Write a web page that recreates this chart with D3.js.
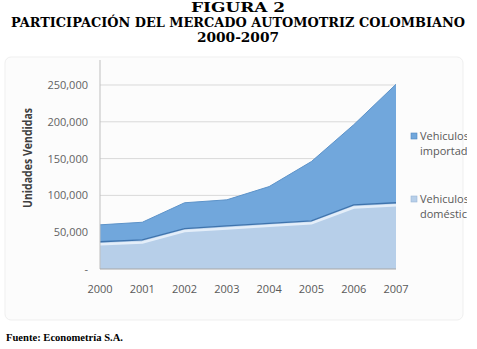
<!DOCTYPE html>
<html>
<head>
<meta charset="utf-8">
<script src="https://cdn.jsdelivr.net/npm/d3@7"></script>
<style>
  body { margin: 0; background: #fff; }
  svg { display: block; }
</style>
</head>
<body>
<svg id="chart"></svg>
<script>
const WIDTH = 477;
const HEIGHT = 349;

// data
const years = [2000, 2001, 2002, 2003, 2004, 2005, 2006, 2007];
const domesticos = [37000, 39500, 55000, 58500, 62000, 65500, 87000, 90000];
const importados = [23000, 24000, 35000, 35500, 50000, 80500, 109000, 161000];
const yTicks = [0, 50000, 100000, 150000, 200000, 250000];
const legendLines = [
    ["Vehiculos", "importados"],
    ["Vehiculos", "domésticos"]
];
const titleLines = ["FIGURA 2", "PARTICIPACIÓN DEL MERCADO AUTOMOTRIZ COLOMBIANO", "2000-2007"];

const rows = years.map((yr, i) => ({ year: yr, dom: domesticos[i], imp: importados[i] }));

const svg = d3.select("#chart")
    .attr("width", WIDTH)
    .attr("height", HEIGHT);

// faint chart background
svg.append("rect")
    .attr("x", 5).attr("y", 57)
    .attr("width", 458).attr("height", 263)
    .attr("rx", 6)
    .style("fill", "#fcfcfc")
    .style("stroke", "#efefef");

const plotTop = 60;
const x = d3.scaleLinear().domain([2000, 2007]).range([100, 396]);
const y = d3.scaleLinear().domain([0, 250000]).range([269, 85]);

// gridlines
svg.append("g")
    .selectAll("line")
    .data(yTicks.filter(d => d > 0))
    .enter()
    .append("line")
    .attr("x1", x(2000)).attr("x2", x(2007))
    .attr("y1", d => y(d)).attr("y2", d => y(d))
    .style("stroke", "#d9d9d9");

const stack = d3.stack().keys(["dom", "imp"]);
const layers = stack(rows);

const area = d3.area()
    .x(d => x(d.data.year))
    .y0(d => y(d[0]))
    .y1(d => y(d[1]));

const fills = { dom: "#b7cfe9", imp: "#71a7dc" };

svg.append("g")
    .selectAll("path")
    .data(layers)
    .enter()
    .append("path")
    .attr("d", area)
    .style("fill", d => fills[d.key]);

const topLine = d3.line()
    .x(d => x(d.data.year))
    .y(d => y(d[1]));

// edges: top of imported, dark shadow + white highlight on domestic
svg.append("path")
    .attr("d", topLine(layers[1]))
    .style("fill", "none")
    .style("stroke", "#5d93c9")
    .style("stroke-width", 1);
svg.append("path")
    .attr("d", topLine(layers[0]))
    .attr("transform", "translate(0,2.5)")
    .style("fill", "none")
    .style("stroke", "#e4eef9")
    .style("stroke-width", 2.5);
svg.append("path")
    .attr("d", topLine(layers[0]))
    .style("fill", "none")
    .style("stroke", "#3f74ad")
    .style("stroke-width", 1.3);

// axes lines
svg.append("line")
    .attr("x1", x(2000)).attr("x2", x(2000))
    .attr("y1", y(0)).attr("y2", plotTop)
    .style("stroke", "#bfbfbf");
svg.append("line")
    .attr("x1", x(2000)).attr("x2", x(2007))
    .attr("y1", y(0)).attr("y2", y(0))
    .style("stroke", "#a6a6a6");

const fmt = d3.format(",");
const labelFont = "'Open Sans', 'DejaVu Sans', sans-serif";

svg.append("g")
    .selectAll("text")
    .data(yTicks)
    .enter()
    .append("text")
    .attr("x", 88)
    .attr("y", d => y(d) + 4)
    .attr("text-anchor", "end")
    .style("font-family", labelFont)
    .style("font-size", "11px")
    .style("fill", "#636363")
    .text(d => d === 0 ? "-" : fmt(d));

svg.append("g")
    .selectAll("text")
    .data(years)
    .enter()
    .append("text")
    .attr("x", d => x(d))
    .attr("y", 293)
    .attr("text-anchor", "middle")
    .style("font-family", labelFont)
    .style("font-size", "11px")
    .style("fill", "#595959")
    .text(d => d);

svg.append("text")
    .attr("transform", "translate(31.5,158) rotate(-90)")
    .attr("text-anchor", "middle")
    .attr("textLength", 100)
    .attr("lengthAdjust", "spacingAndGlyphs")
    .style("font-family", labelFont)
    .style("font-size", "12px")
    .style("font-weight", "bold")
    .style("fill", "#404040")
    .text("Unidades Vendidas");

// legend, clipped at the right like the original
svg.append("clipPath")
    .attr("id", "legclip")
    .append("rect")
    .attr("x", 400).attr("y", 100)
    .attr("width", 67).attr("height", 150);

const legendKeys = ["imp", "dom"];
const legY = [137, 200];
const leg = svg.append("g").attr("clip-path", "url(#legclip)");

legendKeys.forEach((k, i) => {
    leg.append("rect")
        .attr("x", 411).attr("y", legY[i] - 4)
        .attr("width", 6).attr("height", 6)
        .style("fill", fills[k])
        .style("stroke", k === "imp" ? "#4f86bf" : "#9ab6d6")
        .style("stroke-width", 0.6);
    leg.append("text")
        .attr("x", 420)
        .attr("y", legY[i] + 3)
        .style("font-family", labelFont)
        .style("font-size", "11px")
        .style("fill", "#595959")
        .selectAll("tspan")
        .data(legendLines[i])
        .enter()
        .append("tspan")
        .attr("x", 420)
        .attr("dy", (d, j) => j === 0 ? 0 : 15)
        .text(d => d);
});

// title
const titleY = [11.5, 26.5, 42];
const titleW = [94, 454, 82];
svg.append("g")
    .selectAll("text")
    .data(titleLines)
    .enter()
    .append("text")
    .attr("x", 238)
    .attr("y", (d, i) => titleY[i])
    .attr("text-anchor", "middle")
    .attr("textLength", (d, i) => titleW[i])
    .attr("lengthAdjust", "spacingAndGlyphs")
    .style("font-family", "'DejaVu Serif', 'Liberation Serif', serif")
    .style("font-size", "12.5px")
    .style("font-weight", "bold")
    .style("fill", "#000")
    .text(d => d);

svg.append("text")
    .attr("x", 6)
    .attr("y", 341)
    .attr("textLength", 117)
    .attr("lengthAdjust", "spacingAndGlyphs")
    .style("font-family", "'Liberation Serif', serif")
    .style("font-size", "10.5px")
    .style("font-weight", "bold")
    .style("fill", "#000")
    .text("Fuente: Econometría S.A.");
</script>
</body>
</html>
